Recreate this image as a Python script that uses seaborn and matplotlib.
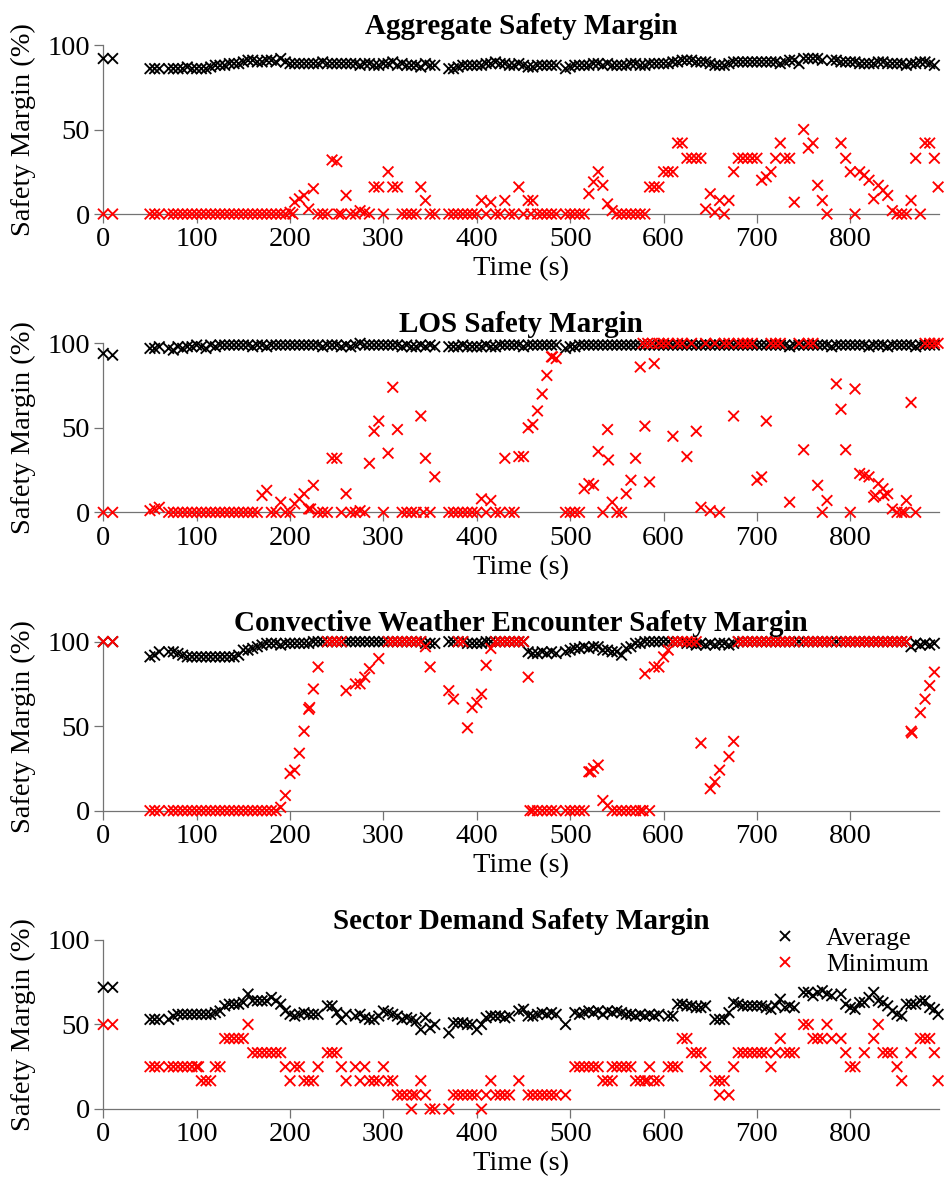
import matplotlib
matplotlib.use("Agg")
import matplotlib.pyplot as plt
import numpy as np
import pandas as pd
import seaborn as sns

sns.set_theme(style="ticks")
plt.rcParams["font.family"] = ["Liberation Serif", "DejaVu Serif"]
plt.rcParams["text.color"] = "black"
plt.rcParams["axes.labelcolor"] = "black"

N = None

# sample times (s)
time_s = [0, 10,
          50, 55, 60, 65, 70, 75, 80, 85, 90, 95,
          100, 105, 110, 115, 120, 125, 130, 135, 140, 145,
          150, 155, 160, 165, 170, 175, 180, 185, 190, 195,
          200, 205, 210, 215, 220, 225, 230, 235, 240, 245,
          250, 255, 260, 265, 270, 275, 280, 285, 290, 295,
          300, 305, 310, 315, 320, 325, 330, 335, 340, 345,
          350, 355, 360, 365, 370, 375, 380, 385, 390, 395,
          400, 405, 410, 415, 420, 425, 430, 435, 440, 445,
          450, 455, 460, 465, 470, 475, 480, 485, 490, 495,
          500, 505, 510, 515, 520, 525, 530, 535, 540, 545,
          550, 555, 560, 565, 570, 575, 580, 585, 590, 595,
          600, 605, 610, 615, 620, 625, 630, 635, 640, 645,
          650, 655, 660, 665, 670, 675, 680, 685, 690, 695,
          700, 705, 710, 715, 720, 725, 730, 735, 740, 745,
          750, 755, 760, 765, 770, 775, 780, 785, 790, 795,
          800, 805, 810, 815, 820, 825, 830, 835, 840, 845,
          850, 855, 860, 865, 870, 875, 880, 885, 890]

# Aggregate safety margin (%)
agg_avg = [92, 92,
           86, 86, 86, N, 86, 86, 86, 86, 87, 86,
           86, 86, 86, 87, 88, 88, 88, 89, 89, 89,
           90, 91, 91, 90, 90, 91, 91, 90, 92, 90,
           89, 89, 89, 89, 89, 89, 89, 90, 89, 89,
           89, 89, 89, 89, 89, 88, 89, 89, 88, 88,
           89, 89, 90, 88, 89, 88, 88, 88, 87, 89,
           88, 88, N, N, 86, 86, 87, 88, 88, 88,
           88, 88, 89, 89, 90, 89, 89, 88, 88, 89,
           88, 87, 87, 88, 88, 88, 88, 88, N, 86,
           87, 88, 88, 88, 88, 89, 89, 88, 89, 88,
           88, 88, 88, 89, 89, 88, 88, 89, 89, 89,
           89, 89, 90, 90, 91, 91, 91, 90, 90, 90,
           89, 88, 88, 88, 89, 90, 90, 90, 90, 90,
           90, 90, 90, 90, 90, 89, 90, 91, 91, 89,
           92, 92, 92, 92, 91, N, 91, 91, 90, 90,
           90, 90, 89, 89, 89, 89, 90, 90, 89, 89,
           89, 89, 88, 89, 89, 90, 90, 89, 88]
agg_min = [0, 0,
           0, 0, 0, N, 0, 0, 0, 0, 0, 0,
           0, 0, 0, 0, 0, 0, 0, 0, 0, 0,
           0, 0, 0, 0, 0, 0, 0, 0, 0, 0,
           1, 7, 9, 11, 3, 15, 0, 0, 0, 32,
           31, 0, 11, 0, 0, 2, 1, 0, 16, 16,
           0, 25, 16, 16, 0, 0, 0, 0, 16, 8,
           0, 0, N, N, 0, 0, 0, 0, 0, 0,
           0, 8, 0, 7, 0, 0, 8, 0, 0, 16,
           0, 8, 8, 0, 0, 0, 0, 0, N, 0,
           0, 0, 0, 0, 12, 19, 25, 17, 6, 2,
           0, 0, 0, 0, 0, 0, 0, 16, 16, 16,
           25, 25, 25, 42, 42, 33, 33, 33, 33, 3,
           12, 1, 8, 0, 8, 25, 33, 33, 33, 33,
           33, 20, 22, 25, 33, 42, 33, 33, 7, N,
           50, 39, 42, 17, 8, 0, N, N, 42, 33,
           25, 0, 25, 23, 20, 9, 17, 14, 11, 2,
           0, 0, 0, 8, 33, 0, 42, 42, 33]
agg_min_extra_t = [203, 252, 458, 894]
agg_min_extra_v = [0, 0, 0, 16]

# LOS safety margin (%)
los_avg = [94, 93,
           97, 97, 98, N, 97, 96, 98, 97, 98, 98,
           99, 98, 97, 99, 98, 99, 99, 99, 99, 99,
           99, 99, 98, 99, 99, 98, 99, 99, 99, 99,
           99, 99, 99, 99, 99, 99, 99, 98, 99, 99,
           99, 98, 99, 98, 99, 100, 99, 99, 99, 99,
           99, 99, 99, 99, 98, 99, 98, 98, 99, 98,
           99, 98, N, N, 98, 98, 98, 99, 98, 98,
           98, 98, 99, 98, 98, 99, 99, 99, 99, 99,
           98, 99, 99, 99, 99, 99, 99, 99, N, 97,
           98, 98, 99, 99, 99, 99, 99, 99, 99, 99,
           99, 99, 99, 99, 99, 99, 99, 99, 99, 99,
           99, 99, 99, 99, 99, 99, 99, 99, 99, 99,
           99, 99, 99, 99, 99, 99, 99, 99, 99, 99,
           99, 99, 99, 99, 99, 99, 99, 98, 99, 99,
           99, 99, 99, 99, 99, 99, 98, 99, 99, 99,
           99, 99, 99, 99, 98, 99, 99, 99, 98, 99,
           99, 99, 99, 99, 98, 99, 99, 99, 99]
los_min = [0, 0,
           1, 2, 3, N, 0, 0, 0, 0, 0, 0,
           0, 0, 0, 0, 0, 0, 0, 0, 0, 0,
           0, 0, 0, 0, 10, 13, 0, 0, 6, 0,
           0, 5, 8, 11, 2, 16, 0, 0, 0, 32,
           32, 0, 11, 0, 0, 1, 0, 29, 48, 54,
           0, 35, 74, 49, 0, 0, 0, 0, 57, 32,
           0, 21, N, N, 0, 0, 0, 0, 0, 0,
           0, 8, 0, 7, 0, 0, 32, 0, 0, 33,
           33, 50, 52, 60, 70, 81, 92, 91, N, 0,
           0, 0, 0, 14, 17, 16, 36, 0, 49, 6,
           0, 0, 11, 19, 32, 86, 51, 18, 88, 100,
           100, 100, 45, 100, 100, 33, 100, 48, 3, 100,
           1, 100, 0, 100, 100, 57, 100, 100, 100, 100,
           19, 21, 54, 100, 100, 100, N, 6, N, 100,
           37, 100, 100, 16, 0, 7, N, 76, 61, 37,
           0, 73, 23, 22, 21, 9, 17, 14, 11, 2,
           0, 0, 7, 65, 0, N, 100, 100, 100]
los_min_extra_t = [222, 343, 481, 541, 578, 583, 588, 827, 836, 858, 894]
los_min_extra_v = [2, 0, 92, 31, 100, 100, 100, 10, 10, 0, 100]

# Convective weather encounter safety margin (%)
conv_avg = [100, 100,
            91, 92, 94, N, 94, 94, 93, 92, 91, 91,
            91, 91, 91, 91, 91, 91, 91, 91, 91, 92,
            95, 95, 96, 97, 98, 99, 99, 99, 98, 99,
            99, 99, 99, 99, 99, 100, 100, 100, 100, 100,
            100, 100, 100, 100, 100, 100, 100, 100, 100, 100,
            100, 100, 100, 100, 100, 100, 100, 100, 100, 99,
            99, 99, N, N, 100, 100, 100, 100, 99, 99,
            99, 99, 100, 100, 100, 100, 100, 100, 100, 100,
            100, 94, 93, 93, 94, 93, 94, 93, N, 94,
            95, 96, 96, 97, 96, 97, 97, 95, 95, 94,
            94, 92, 96, 97, 99, 99, 100, 100, 100, 100,
            100, 100, 100, 100, 100, 99, 99, 98, 99, 98,
            99, 98, 99, 99, 98, 99, 100, 100, 100, 100,
            100, 100, 100, 100, 100, 100, 100, 100, 100, 100,
            100, 100, 100, 100, 100, 100, 100, 100, 100, 100,
            100, 100, 100, 100, 100, 100, 100, 100, 100, 100,
            100, 100, 100, 97, 99, 98, 99, 98, 99]
conv_min = [100, 100,
            0, 0, 0, N, 0, 0, 0, 0, 0, 0,
            0, 0, 0, 0, 0, 0, 0, 0, 0, 0,
            0, 0, 0, 0, 0, 0, 0, 0, 2, 9,
            22, 24, 34, 47, 60, 72, 85, N, 100, 100,
            100, 100, 71, N, 75, 75, 79, 84, N, 90,
            N, 100, 100, 100, 100, 100, 100, 100, 100, 97,
            85, N, N, N, 71, 66, 100, 100, 49, 61,
            64, 69, 86, 96, 100, 100, 100, 100, 100, 100,
            100, 79, 0, 0, 0, 0, 0, 0, N, 0,
            0, 0, 0, 0, 23, 25, 27, 6, 3, 0,
            0, 0, 0, 0, 0, 0, 81, 0, 85, 85,
            91, 95, 100, 100, 100, 100, 100, 100, 40, N,
            13, 17, 24, N, 32, 41, 100, 100, 100, 100,
            100, 100, 100, 100, 100, 100, 100, 100, 100, N,
            100, 100, 100, 100, 100, 100, 100, N, 100, 100,
            100, 100, 100, 100, 100, 100, 100, 100, 100, 100,
            100, 100, 100, 47, N, 58, 66, 74, 82]
conv_min_extra_t = [221, 457, 522, 578, 866]
conv_min_extra_v = [61, 0, 23, 0, 46]

# Sector demand safety margin (%)
sector_avg = [72, 72,
              53, 53, 53, N, 53, 55, 56, 56, 56, 56,
              56, 56, 56, 56, 57, 58, 61, 62, 62, 62,
              63, 68, 64, 64, 64, 64, 66, 64, 62, 58,
              56, 55, 56, 57, 56, 56, 56, N, 61, 61,
              57, 53, 56, N, 55, 56, 54, 53, 53, 55,
              58, 57, 56, 55, 53, 54, 53, 52, 47, 54,
              48, 50, N, N, 45, 51, 51, 51, 50, 50,
              47, 50, 54, 55, 55, 55, 54, 55, N, 58,
              59, 55, 55, 56, 57, 56, 57, 56, N, 50,
              N, 57, 56, 57, 58, 57, 58, 56, 58, 57,
              58, 57, 56, 56, 55, 56, 55, 56, 55, 56,
              N, 55, 55, 62, 62, 61, 61, 60, 60, 61,
              N, 53, 53, 53, 57, 63, 62, 61, 61, 61,
              61, 61, 60, 59, 61, 65, 60, 61, 60, N,
              69, 69, 67, 69, 70, 68, 67, N, 68, 62,
              60, 59, 63, 63, 66, 69, 64, 63, 61, 58,
              56, 55, 62, 62, 62, 64, 64, 60, 59]
sector_min = [50, 50,
              25, 25, 25, N, 25, 25, 25, 25, 25, 25,
              25, 16.7, 16.7, 16.7, 25, 25, 41.7, 41.7, 41.7, 41.7,
              41.7, 50, 33.3, 33.3, 33.3, 33.3, 33.3, 33.3, 33.3, 25,
              16.7, 25, 25, 16.7, 16.7, 16.7, 25, N, 33.3, 33.3,
              33.3, 25, 16.7, N, 25, 16.7, 25, 16.7, 16.7, 16.7,
              25, 16.7, 16.7, 8.3, 8.3, 8.3, 0, 8.3, 16.7, 8.3,
              0, 0, N, N, 0, 8.3, 8.3, 8.3, 8.3, 8.3,
              8.3, 0, 8.3, 16.7, 8.3, 8.3, 8.3, 8.3, N, 16.7,
              N, 8.3, 8.3, 8.3, 8.3, 8.3, 8.3, 8.3, N, 8.3,
              N, 25, 25, 25, 25, 25, 25, 16.7, 16.7, 16.7,
              25, 25, 25, 25, 16.7, 16.7, 16.7, 25, 16.7, 16.7,
              N, 25, 25, 25, 41.7, 41.7, 33.3, 33.3, 33.3, 25,
              N, 16.7, 8.3, 16.7, 8.3, 25, 33.3, 33.3, 33.3, 33.3,
              33.3, 33.3, 33.3, 25, 33.3, 41.7, 33.3, 33.3, 33.3, N,
              50, 50, 41.7, 41.7, 41.7, 50, 41.7, N, 41.7, 33.3,
              25, 25, N, 33.3, N, 41.7, 50, 33.3, 33.3, 33.3,
              25, 16.7, N, 33.3, N, 41.7, 41.7, 41.7, 33.3]
sector_min_extra_t = [102, 331, 545, 583, 660, 894]
sector_min_extra_v = [25, 8.3, 25, 16.7, 16.7, 16.7]
sector_avg_extra_t = [894]
sector_avg_extra_v = [56]

panels = [
    ("Aggregate Safety Margin", agg_avg, agg_min, [], [], agg_min_extra_t, agg_min_extra_v),
    ("LOS Safety Margin", los_avg, los_min, [], [], los_min_extra_t, los_min_extra_v),
    ("Convective Weather Encounter Safety Margin", conv_avg, conv_min, [], [],
     conv_min_extra_t, conv_min_extra_v),
    ("Sector Demand Safety Margin", sector_avg, sector_min, sector_avg_extra_t, sector_avg_extra_v,
     sector_min_extra_t, sector_min_extra_v),
]

fig, axes = plt.subplots(4, 1, figsize=(9.45, 11.94), dpi=100)
fig.subplots_adjust(left=0.1093, right=0.9937, top=0.9623, bottom=0.0712, hspace=0.765)

colors = {"Average": "black", "Minimum": "red"}

for i, (ax, (title, avg, mn, avg_xt, avg_xv, min_xt, min_xv)) in enumerate(zip(axes, panels)):
    df = pd.DataFrame({"Time (s)": time_s,
                       "Average": np.array(avg, dtype=float),
                       "Minimum": np.array(mn, dtype=float)})
    df = df.melt(id_vars="Time (s)", var_name="kind", value_name="Safety Margin (%)")
    extra = pd.concat([
        pd.DataFrame({"Time (s)": avg_xt, "kind": "Average", "Safety Margin (%)": avg_xv}),
        pd.DataFrame({"Time (s)": min_xt, "kind": "Minimum", "Safety Margin (%)": min_xv}),
    ])
    df = pd.concat([df, extra]).dropna()
    df["kind"] = pd.Categorical(df["kind"], ["Average", "Minimum"])
    df = df.sort_values("kind", kind="stable")

    last = i == len(panels) - 1
    sns.scatterplot(data=df, x="Time (s)", y="Safety Margin (%)", hue="kind",
                    palette=colors, marker="x", s=58, linewidth=1.35,
                    ax=ax, legend=last, clip_on=False, zorder=3)

    ax.set_xlim(0, 895)
    ax.set_ylim(0, 100)
    ax.set_xticks(range(0, 801, 100))
    ax.set_yticks([0, 50, 100])
    ax.set_title(title, fontweight="bold", fontsize=21, pad=8, color="black")
    ax.set_xlabel("Time (s)", fontsize=20.5, labelpad=3)
    ax.set_ylabel("Safety Margin (%)", fontsize=20.5, labelpad=8)
    sns.despine(ax=ax)
    for side in ["left", "bottom"]:
        ax.spines[side].set_color("0.45")
        ax.spines[side].set_linewidth(0.9)
    ax.tick_params(direction="out", length=6.5, width=0.9, color="0.45",
                   labelsize=20.5, labelcolor="black", pad=3)

    if last:
        sns.move_legend(ax, "upper right", bbox_to_anchor=(1.0, 1.135), title=None,
                        frameon=False, fontsize=18.5, handlelength=0.8,
                        handletextpad=1.2, labelspacing=0.1, borderaxespad=0)

fig.savefig("out.png", dpi=100)
